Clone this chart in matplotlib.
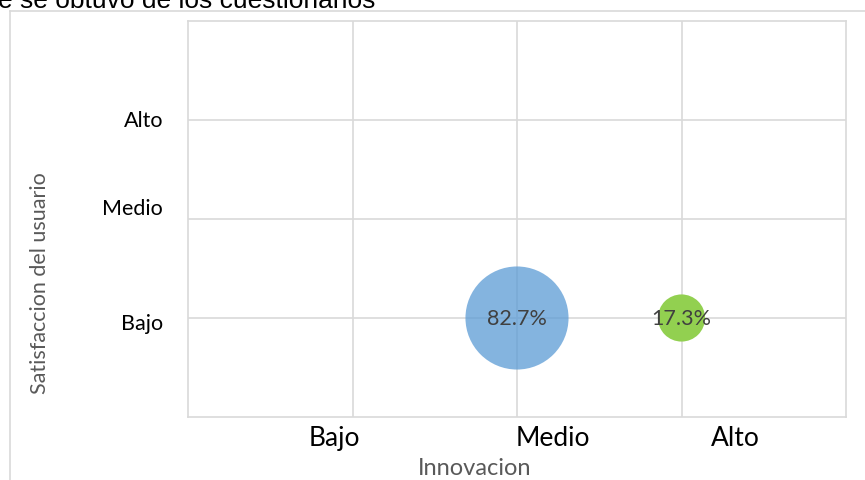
import matplotlib
matplotlib.use("Agg")
import matplotlib.pyplot as plt
from matplotlib.lines import Line2D

# ---- data ----
innovacion_cats = ["Bajo", "Medio", "Alto"]
satisfaccion_cats = ["Bajo", "Medio", "Alto"]
bubble_x = [2, 3]          # Innovacion position (Medio, Alto)
bubble_y = [1, 1]          # Satisfaccion position (Bajo)
bubble_pct = [82.7, 17.3]
bubble_labels = ["82.7%", "17.3%"]
bubble_colors = ["#5B9BD5", "#92D050"]
bubble_alpha = [0.75, 1.0]
# label positions of category text (as rendered by the original chart)
x_label_pos = [0.89, 2.22, 3.33]
y_label_pos = [0.97, 2.13, 3.02]

FONT = "Lato"
GRID = "#D9D9D9"

fig = plt.figure(figsize=(8.65, 4.81), dpi=100)
ax = fig.add_axes([188/865, 1-418/481, (846-188)/865, (418-22)/481])

ax.set_xlim(0, 4)
ax.set_ylim(0, 4)

k = 66.6
for x, y, p, c, a, lab in zip(bubble_x, bubble_y, bubble_pct, bubble_colors, bubble_alpha, bubble_labels):
    ax.scatter([x], [y], s=p*k, color=c, alpha=a, edgecolors="none", zorder=3)
    ax.text(x, y, lab, ha="center", va="center", fontsize=15.5, color="#404040",
            family=FONT, zorder=4)

# grid via minor ticks
ax.set_xticks([1, 2, 3], minor=True)
ax.set_yticks([1, 2, 3], minor=True)
ax.grid(True, which="minor", color=GRID, linewidth=1.2, zorder=0)
ax.tick_params(which="minor", length=0)

ax.set_xticks(x_label_pos)
ax.set_xticklabels(innovacion_cats, fontsize=19, family=FONT, color="black")
ax.set_yticks(y_label_pos)
ax.set_yticklabels(satisfaccion_cats, fontsize=15.5, family=FONT, color="black")
ax.tick_params(which="major", length=0, pad=6)
ax.tick_params(axis="y", pad=18)

for s in ax.spines.values():
    s.set_color(GRID)
    s.set_linewidth(1.2)

fig.text(475/865, 1-469/481, "Innovacion", ha="center", va="center",
         fontsize=17, family=FONT, color="#595959")
fig.text(40/865, 1-283/481, "Satisfaccion del usuario", rotation=90, ha="center", va="center",
         fontsize=15.5, family=FONT, color="#595959")

# outer chart frame (partially visible)
fig.add_artist(Line2D([10/865, 1.0], [1-12/481, 1-12/481], transform=fig.transFigure, color=GRID, lw=1.2))
fig.add_artist(Line2D([10/865, 10/865], [0, 1-12/481], transform=fig.transFigure, color=GRID, lw=1.2))

# cropped heading text (only its lower part is visible in the original)
fig.text(-2/865, 1-8.5/481, "e se obtuvo de los cuestionarios", ha="left", va="baseline",
         fontsize=19, family="Liberation Sans", color="black")

fig.savefig("out.png", dpi=100)
